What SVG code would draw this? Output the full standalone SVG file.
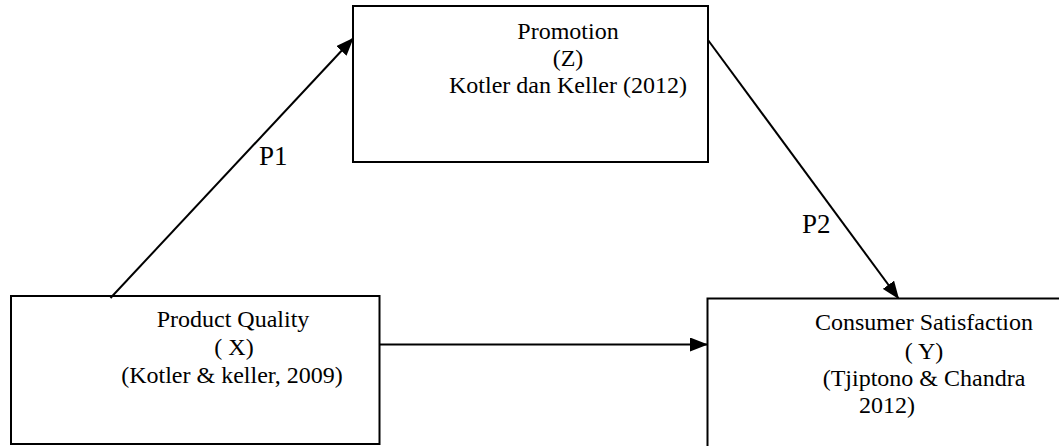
<svg xmlns="http://www.w3.org/2000/svg" width="1059" height="446" viewBox="0 0 1059 446">
  <style>
    .box { fill: #ffffff; stroke: #000000; stroke-width: 2; }
    .t { font-family: "Liberation Serif", "Times New Roman", serif; font-size: 24px; fill: #000000; text-anchor: middle; }
    .lbl { font-family: "Liberation Serif", "Times New Roman", serif; font-size: 27px; fill: #000000; }
    .conn { stroke: #000000; stroke-width: 2; fill: none; marker-end: url(#arrow); }
  </style>
  <defs>
    <marker id="arrow" markerUnits="userSpaceOnUse" markerWidth="18" markerHeight="14" refX="17" refY="7" orient="auto">
      <path d="M0,0 L18,7 L0,14 Z" fill="#000000"/>
    </marker>
  </defs>
  <rect width="1059" height="446" fill="#ffffff"/>

  <g id="node-promotion">
    <rect class="box" x="353" y="6" width="355" height="156"/>
    <text class="t" x="568" y="39">Promotion</text>
    <text class="t" x="568" y="66">(Z)</text>
    <text class="t" x="568" y="93">Kotler dan Keller (2012)</text>
  </g>

  <g id="node-product-quality">
    <rect class="box" x="11" y="296" width="368.5" height="148"/>
    <text class="t" x="233" y="327">Product Quality</text>
    <text class="t" x="234" y="355">( X)</text>
    <text class="t" x="232" y="383">(Kotler &amp; keller, 2009)</text>
  </g>

  <g id="node-consumer-satisfaction">
    <rect class="box" x="707.5" y="298.5" width="370" height="160"/>
    <text class="t" x="924" y="330">Consumer Satisfaction</text>
    <text class="t" x="924" y="359">( Y)</text>
    <text class="t" x="924" y="386">(Tjiptono &amp; Chandra</text>
    <text class="t" x="859" y="413" style="text-anchor:start">2012)</text>
  </g>

  <g id="connectors">
    <line class="conn" x1="110.5" y1="298" x2="353" y2="38.5"/>
    <line class="conn" x1="708" y1="40" x2="898.5" y2="298.5"/>
    <line class="conn" x1="379.5" y1="344.5" x2="707" y2="344.5"/>
    <text class="lbl" x="259" y="165">P1</text>
    <text class="lbl" x="802" y="233">P2</text>
  </g>
</svg>
